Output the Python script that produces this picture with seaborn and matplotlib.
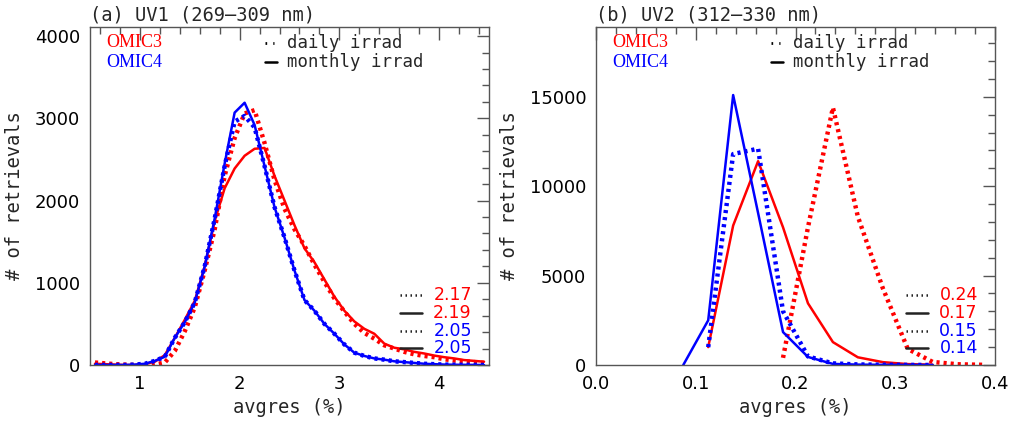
import numpy as np
import pandas as pd
import matplotlib
matplotlib.use('Agg')
import matplotlib.pyplot as plt
import seaborn as sns
from matplotlib.ticker import MultipleLocator

# UV1 histogram (bin centres in %)
uv1_x = [0.55, 0.65, 0.75, 0.85, 0.95, 1.05, 1.15, 1.25, 1.35, 1.45,
         1.55, 1.65, 1.75, 1.85, 1.95, 2.05, 2.15, 2.25, 2.35, 2.45,
         2.55, 2.65, 2.75, 2.85, 2.95, 3.05, 3.15, 3.25, 3.35, 3.45,
         3.55, 3.65, 3.75, 3.85, 3.95, 4.05, 4.15, 4.25, 4.35, 4.45]
uv1_c3_daily = [30, 20, 10, 5, 0, 0, 5, 30, 170, 410,
                700, 1150, 1650, 2300, 2760, 3060, 3100, 2700, 2250, 1900,
                1650, 1450, 1220, 1010, 810, 650, 500, 390, 320, 240,
                200, 160, 130, 110, 95, 70, 55, 45, 35, 25]
uv1_c3_monthly = [15, 10, 5, 0, 0, 10, 40, 120, 330, 550,
                  780, 1200, 1750, 2150, 2390, 2545, 2630, 2640, 2300, 2000,
                  1700, 1420, 1250, 1040, 830, 660, 530, 440, 380, 260,
                  210, 190, 160, 140, 115, 95, 80, 60, 50, 40]
uv1_c4_daily = [0, 0, 0, 0, 5, 15, 50, 100, 330, 520,
                760, 1200, 1780, 2420, 2960, 3030, 2890, 2420, 1920, 1550,
                1150, 790, 660, 500, 380, 250, 150, 110, 80, 65,
                45, 35, 25, 15, 10, 5, 3, 2, 1, 0]
uv1_c4_monthly = [0, 0, 0, 0, 5, 15, 50, 100, 330, 520,
                  760, 1200, 1780, 2450, 3070, 3190, 2920, 2420, 1920, 1550,
                  1150, 790, 660, 500, 380, 250, 150, 110, 80, 65,
                  45, 35, 25, 15, 10, 5, 3, 2, 1, 0]

# UV2 histogram
uv2_x = [0.0875, 0.1125, 0.1375, 0.1625, 0.1875, 0.2125, 0.2375,
         0.2625, 0.2875, 0.3125, 0.3375, 0.3625, 0.3875]
uv2_c3_daily = [None, None, None, None, 400, 7700, 14400,
                8300, 4300, 900, 170, 40, 10]
uv2_c3_monthly = [None, 1000, 7800, 11400, 7700, 3450, 1280,
                  430, 160, 50, 15, None, None]
uv2_c4_daily = [None, 1000, 11800, 12100, 3000, 480, 90,
                30, 15, 5, 0, None, None]
uv2_c4_monthly = [0, 2500, 15100, 8500, 1840, 450, 60,
                  20, 10, 5, 0, None, None]

uv1_means = ['2.17', '2.19', '2.05', '2.05']
uv2_means = ['0.24', '0.17', '0.15', '0.14']

sns.set_theme(style='white')
plt.rcParams['font.family'] = ['DejaVu Sans']

RED = '#ff0000'
BLUE = '#0000ff'
DOT = (0, (0.7, 0.9))
mono = 'DejaVu Sans Mono'

fig = plt.figure(figsize=(10.11, 4.25), dpi=100)
ax1 = fig.add_axes([0.089, 0.1412, 0.3947, 0.795])
ax2 = fig.add_axes([0.5895, 0.1412, 0.3947, 0.795])


def draw(ax, x, c3d, c3m, c4d, c4m):
    df = pd.DataFrame({'x': x, 'c3d': c3d, 'c3m': c3m, 'c4d': c4d, 'c4m': c4m})
    for col, color, ls, lw in [('c3d', RED, DOT, 3.2), ('c3m', RED, '-', 1.8),
                               ('c4d', BLUE, DOT, 3.2), ('c4m', BLUE, '-', 1.8)]:
        d = df[['x', col]].dropna()
        sns.lineplot(x=d['x'], y=d[col], ax=ax, color=color, linestyle=ls,
                     linewidth=lw, estimator=None, sort=False)


def style(ax, title, means):
    ax.set_title(title, loc='left', fontsize=13.5, family=mono, pad=5)
    ax.set_xlabel('avgres (%)', fontsize=13.5, family=mono, labelpad=4)
    ax.set_ylabel('# of retrievals', fontsize=13.5, family=mono, labelpad=8)
    ax.tick_params(which='both', direction='in', top=True, right=True,
                   colors='#555555', labelcolor='black', labelsize=13)
    ax.tick_params(which='major', length=9, width=1, pad=7)
    ax.tick_params(which='minor', length=5, width=1)
    for s in ax.spines.values():
        s.set_color('#555555')
        s.set_linewidth(1)
    ax.text(0.042, 0.953, 'OMIC3', color=RED, transform=ax.transAxes,
            fontsize=13, family='Liberation Serif', va='center')
    ax.text(0.042, 0.896, 'OMIC4', color=BLUE, transform=ax.transAxes,
            fontsize=13, family='Liberation Serif', va='center')
    ax.plot([0.438, 0.462], [0.953, 0.953], color='black', ls=(0, (0.6, 2.2)),
            lw=2, transform=ax.transAxes)
    ax.plot([0.438, 0.468], [0.896, 0.896], color='black', lw=1.8,
            transform=ax.transAxes)
    ax.text(0.494, 0.953, 'daily irrad', transform=ax.transAxes,
            fontsize=12.5, family=mono, va='center')
    ax.text(0.494, 0.896, 'monthly irrad', transform=ax.transAxes,
            fontsize=12.5, family=mono, va='center')
    ys = [0.207, 0.154, 0.101, 0.050]
    cols = [RED, RED, BLUE, BLUE]
    styles = [(0, (0.6, 1.4)), '-', (0, (0.6, 1.4)), '-']
    for y, c, ls, m in zip(ys, cols, styles, means):
        ax.plot([0.777, 0.832], [y, y], color='#222222', ls=ls, lw=1.8,
                transform=ax.transAxes)
        ax.text(0.957, y, m, color=c, transform=ax.transAxes, fontsize=12.5,
                ha='right', va='center')


draw(ax1, uv1_x, uv1_c3_daily, uv1_c3_monthly, uv1_c4_daily, uv1_c4_monthly)
ax1.set_xlim(0.5, 4.5)
ax1.set_ylim(0, 4110)
ax1.xaxis.set_major_locator(MultipleLocator(1))
ax1.xaxis.set_minor_locator(MultipleLocator(0.2))
ax1.yaxis.set_major_locator(MultipleLocator(1000))
ax1.yaxis.set_minor_locator(MultipleLocator(200))
style(ax1, '(a) UV1 (269\u2013309 nm)', uv1_means)

draw(ax2, uv2_x, uv2_c3_daily, uv2_c3_monthly, uv2_c4_daily, uv2_c4_monthly)
ax2.set_xlim(0.0, 0.4)
ax2.set_ylim(0, 18900)
ax2.xaxis.set_major_locator(MultipleLocator(0.1))
ax2.xaxis.set_minor_locator(MultipleLocator(0.02))
ax2.yaxis.set_major_locator(MultipleLocator(5000))
ax2.yaxis.set_minor_locator(MultipleLocator(1000))
ax2.xaxis.set_major_formatter(plt.FormatStrFormatter('%.1f'))
style(ax2, '(b) UV2 (312\u2013330 nm)', uv2_means)

fig.savefig('out.png', dpi=100)
